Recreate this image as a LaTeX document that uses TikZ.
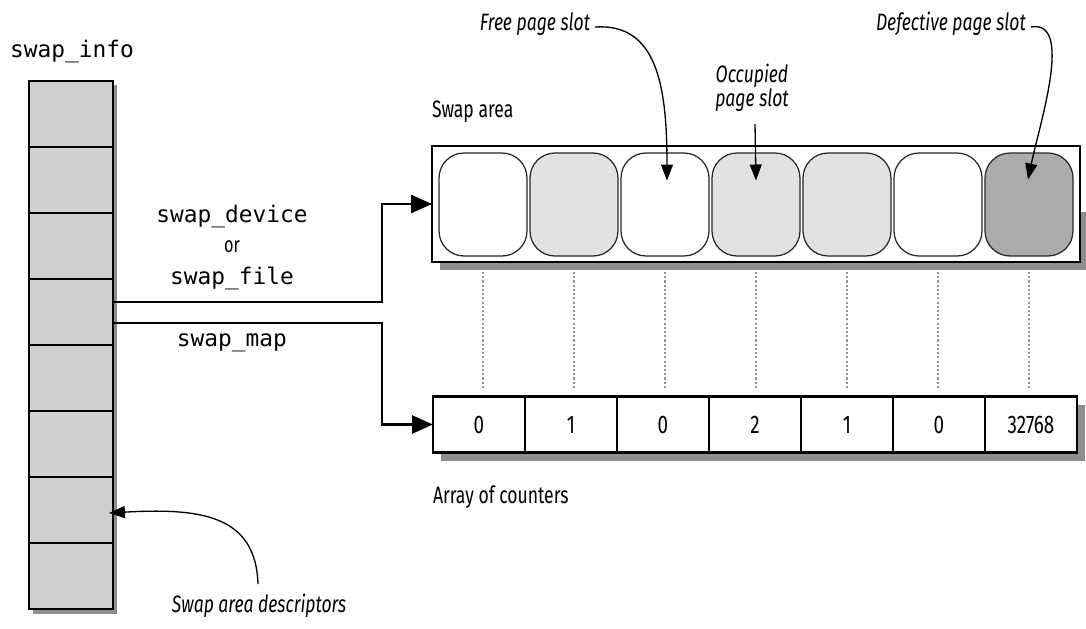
\documentclass[tikz,border=0pt]{standalone}
\usepackage{fontspec}
\setmainfont{Fira Sans}
\setmonofont{DejaVu Sans Mono}
\newfontfamily\condfont{Fira Sans}[FakeStretch=0.74]
\usepackage{tikz}
\usetikzlibrary{arrows.meta, calc, positioning}

\definecolor{infogray}{HTML}{CFCFCF}
\definecolor{slotlight}{HTML}{E2E2E2}
\definecolor{slotdark}{HTML}{ABABAB}
\definecolor{shadowgray}{HTML}{8E8E8E}

\begin{document}
\begin{tikzpicture}[x=0.02cm, y=-0.02cm,
    every node/.style={inner sep=0pt, outer sep=0pt},
    mono/.style={font=\ttfamily\fontsize{13}{15}\selectfont},
    plainlbl/.style={font=\condfont\fontsize{13.5}{15}\selectfont},
    itlbl/.style={font=\condfont\itshape\fontsize{13.5}{14}\selectfont},
    infocell/.style={draw, line width=1.2pt, fill=infogray, minimum width=1.68cm, minimum height=1.32cm},
    slotbox/.style={draw=black!85, line width=0.7pt, rounded corners=0.5cm, minimum width=1.76cm, minimum height=2.06cm},
    cntcell/.style={draw, line width=1.3pt, fill=white, minimum width=1.84cm, minimum height=1.12cm, font=\condfont\fontsize{14.5}{16}\selectfont},
    conn/.style={line width=1.5pt, -{Triangle[length=0.42cm, width=0.36cm]}},
    callout/.style={line width=0.75pt, -{Triangle[length=0.32cm, width=0.24cm]}},
    dotline/.style={gray!85, line width=1.1pt, dash pattern=on 1.2pt off 1.2pt}]
    \useasboundingbox (0,0) rectangle (1086,629);

    % swap_info array
    \fill[shadowgray] (33,85) rectangle (117,614);
    \foreach \i in {1,...,8}
        \node[infocell] (info\i) at (71, {48+66*\i}) {};
    \node[mono] (infolbl) at (72,52) {swap\_info};

    % Swap area with its page slots
    \fill[shadowgray] (440,212) rectangle (1086,270);
    \node[draw, line width=1.4pt, fill=white, minimum width=12.96cm, minimum height=2.32cm] (area) at (756,204) {};
    \foreach \i/\c in {1/white, 2/slotlight, 3/white, 4/slotlight, 5/slotlight, 6/white, 7/slotdark}
        \node[slotbox, fill=\c] (slot\i) at ({483+91*(\i-1)}, 204.5) {};
    \node[plainlbl, anchor=west] (arealbl) at (432,112) {Swap area};

    % Array of counters
    \fill[shadowgray] (441,405) rectangle (1085,461);
    \foreach \i/\v in {1/0, 2/1, 3/0, 4/2, 5/1, 6/0, 7/32768}
        \node[cntcell] (cnt\i) at ({479+92*(\i-1)}, 424.5) {\v};
    \node[plainlbl, anchor=west] (cntlbl) at (433,497) {Array of counters};

    % dotted guides slot -> counter
    \foreach \i in {1,...,7}
        \draw[dotline] ($(slot\i.south)+(0,16)$) -- ($(slot\i.south |- cnt1.north)+(0,-8)$);

    % pointers out of the descriptor
    \node[mono] (devlbl) at (232,217) {swap\_device};
    \node[font=\condfont\fontsize{12.5}{13}\selectfont] (orlbl) at (232,247) {or};
    \node[mono] (filelbl) at (232,278) {swap\_file};
    \node[mono] (maplbl) at (232,343) {swap\_map};
    \draw[conn] ($(info4.east)+(0,-10)$) -| ($(area.west)+(-50,0)$) -- (area.west);
    \draw[conn] ($(info4.east)+(0,11)$) -| ($(cnt1.west)+(-51,0)$) -- (cnt1.west);

    % callouts
    \node[itlbl, anchor=east] (freelbl) at (590,24) {Free page slot};
    \node[itlbl, align=center] (occlbl) at (752,88) {Occupied\\page slot};
    \node[itlbl, anchor=west] (deflbl) at (876,24) {Defective page slot};
    \node[itlbl] (desclbl) at (259,606) {Swap area descriptors};
    \draw[callout] ($(freelbl.east)+(5,3)$) .. controls +(62,-4) and +(0,-95) .. ($(slot3.center)+(2,-24)$);
    \draw[callout] ($(occlbl.south)+(3,12)$) -- ($(slot4.center)+(0,-24)$);
    \draw[callout] ($(deflbl.east)+(5,3)$) .. controls +(43,-8) and +(12,-57) .. ($(slot7.center)+(-1,-25)$);
    \draw[callout] ($(desclbl.north)+(-1,-10)$) .. controls +(-2,-70) and +(90,-5) .. ($(info7.east)+(-4,3)$);
\end{tikzpicture}
\end{document}
